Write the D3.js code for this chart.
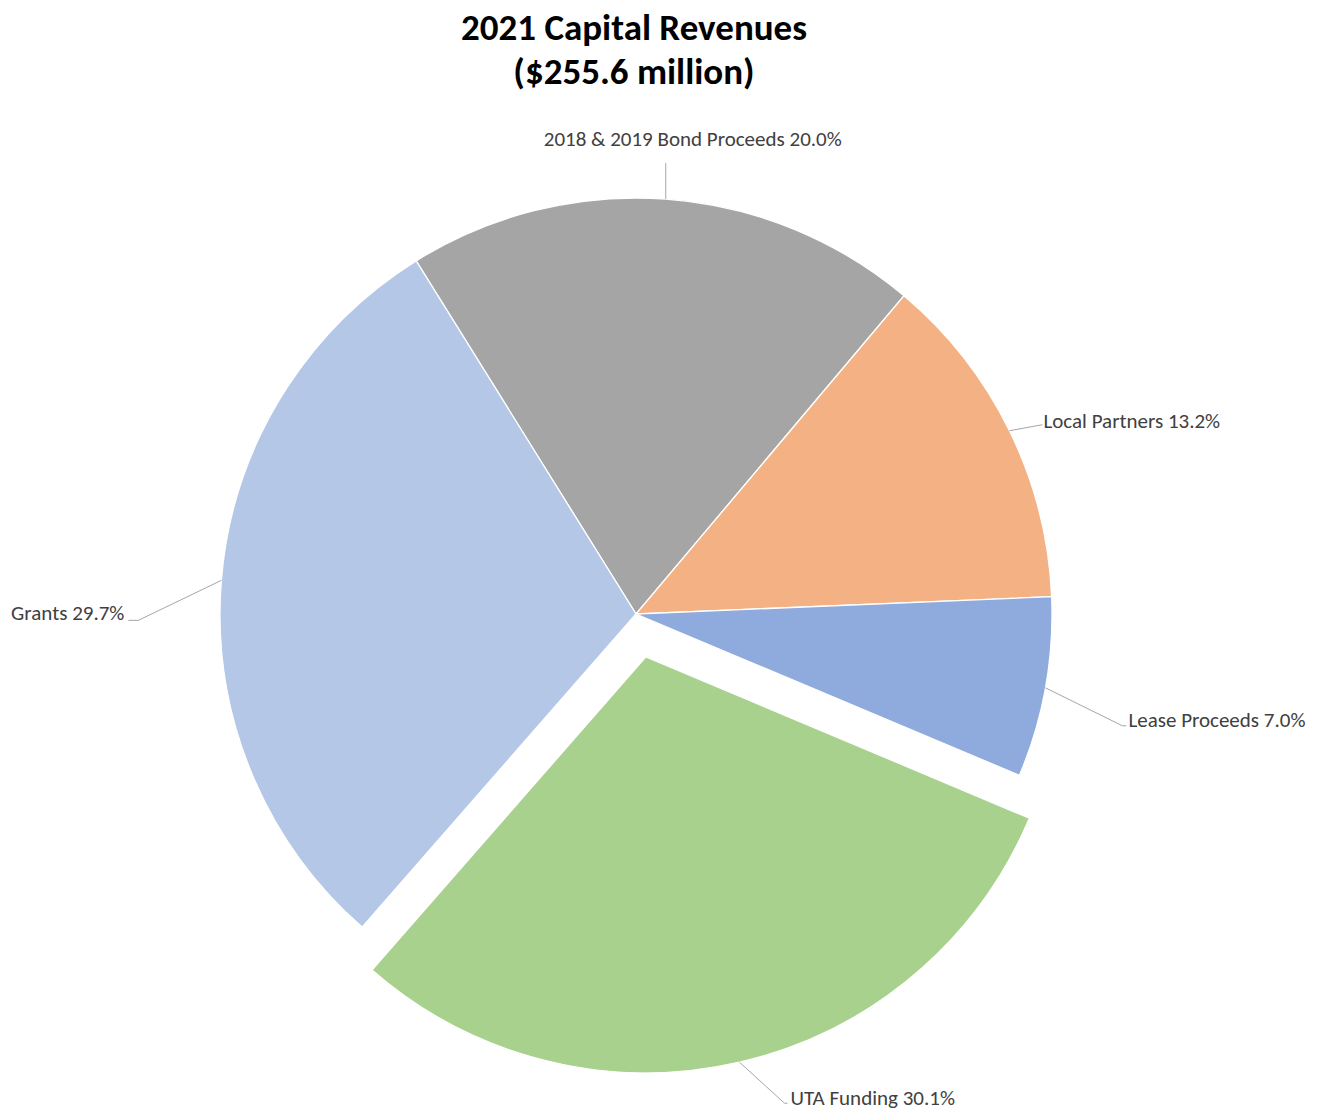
<!DOCTYPE html>
<html>
<head>
<meta charset="utf-8">
<script src="https://cdn.jsdelivr.net/npm/d3@7"></script>
<style>
  body { margin: 0; background: #fff; }
  svg { display: block; }
</style>
</head>
<body>
<div id="chart"></div>
<script>
// chart data
var categories = ["2018 & 2019 Bond Proceeds", "Local Partners", "Lease Proceeds", "UTA Funding", "Grants"];
var shares = [20.0, 13.2, 7.0, 30.1, 29.7];
var colors = ["#A5A5A5", "#F4B183", "#8FAADC", "#A9D18E", "#B4C7E7"];
var exploded = [false, false, false, true, false];
var titleLines = ["2021 Capital Revenues", "($255.6 million)"];

// label placement relative to the point on the slice edge
// elbow = end of the leader, tail = short horizontal piece, text = label anchor
var labelLayout = [
  {elbow: [0, -36], tail: 0, text: [27, -60], anchor: "middle"},
  {elbow: [33, -6], tail: 0, text: [34, -10], anchor: "start"},
  {elbow: [77, 38], tail: 4, text: [83, 32], anchor: "start"},
  {elbow: [45, 41], tail: 3, text: [51, 36], anchor: "start"},
  {elbow: [-83, 40], tail: -10, text: [-97, 33], anchor: "end"}
];

var width = 1322, height = 1110;
var cx = 636, cy = 614, radius = 416, explodeDist = 44;
var fontFam = "Carlito, Calibri, Lato, sans-serif";

var svg = d3.select("#chart")
  .append("svg")
    .attr("width", width)
    .attr("height", height);

// title
svg.append("g").selectAll("text")
  .data(titleLines)
  .enter().append("text")
    .attr("x", 634)
    .attr("y", function(d, i) { return 27 + i * 44; })
    .attr("text-anchor", "middle")
    .attr("dominant-baseline", "central")
    .attr("font-family", fontFam)
    .attr("font-weight", "bold")
    .attr("font-size", 37)
    .attr("fill", "#000")
    .text(function(d) { return d; });

var startA = -31.9 * Math.PI / 180;
var pie = d3.pie()
  .sort(null)
  .value(function(d) { return d; })
  .startAngle(startA)
  .endAngle(startA + 2 * Math.PI);

var arcs = pie(shares);
var arc = d3.arc().innerRadius(0).outerRadius(radius);

function offset(d, i) {
  if (!exploded[i]) return [0, 0];
  var mid = (d.startAngle + d.endAngle) / 2;
  return [Math.sin(mid) * explodeDist, -Math.cos(mid) * explodeDist];
}

var g = svg.append("g")
  .attr("transform", "translate(" + cx + "," + cy + ")");

// slices
g.selectAll("path.slice")
  .data(arcs)
  .enter().append("path")
    .attr("class", "slice")
    .attr("transform", function(d, i) { var o = offset(d, i); return "translate(" + o[0] + "," + o[1] + ")"; })
    .attr("d", arc)
    .attr("fill", function(d, i) { return colors[i]; })
    .attr("stroke", "#fff")
    .attr("stroke-width", 1.3);

// edge point for each slice label
function edgePoint(d, i) {
  var mid = (d.startAngle + d.endAngle) / 2;
  var o = offset(d, i);
  return [Math.sin(mid) * radius + o[0], -Math.cos(mid) * radius + o[1]];
}

// leader lines
g.selectAll("polyline.leader")
  .data(arcs)
  .enter().append("polyline")
    .attr("class", "leader")
    .attr("points", function(d, i) {
      var p = edgePoint(d, i), L = labelLayout[i];
      var e = [p[0] + L.elbow[0], p[1] + L.elbow[1]];
      var pts = [p, e];
      if (L.tail) pts.push([e[0] + L.tail, e[1]]);
      return pts.map(function(q) { return q.join(","); }).join(" ");
    })
    .attr("fill", "none")
    .attr("stroke", "#A6A6A6")
    .attr("stroke-width", 1);

// labels
g.selectAll("text.lbl")
  .data(arcs)
  .enter().append("text")
    .attr("class", "lbl")
    .attr("x", function(d, i) { return edgePoint(d, i)[0] + labelLayout[i].text[0]; })
    .attr("y", function(d, i) { return edgePoint(d, i)[1] + labelLayout[i].text[1]; })
    .attr("text-anchor", function(d, i) { return labelLayout[i].anchor; })
    .attr("dominant-baseline", "central")
    .attr("font-family", fontFam)
    .attr("font-size", 21)
    .attr("fill", "#404040")
    .text(function(d, i) { return categories[i] + " " + shares[i].toFixed(1) + "%"; });
</script>
</body>
</html>
